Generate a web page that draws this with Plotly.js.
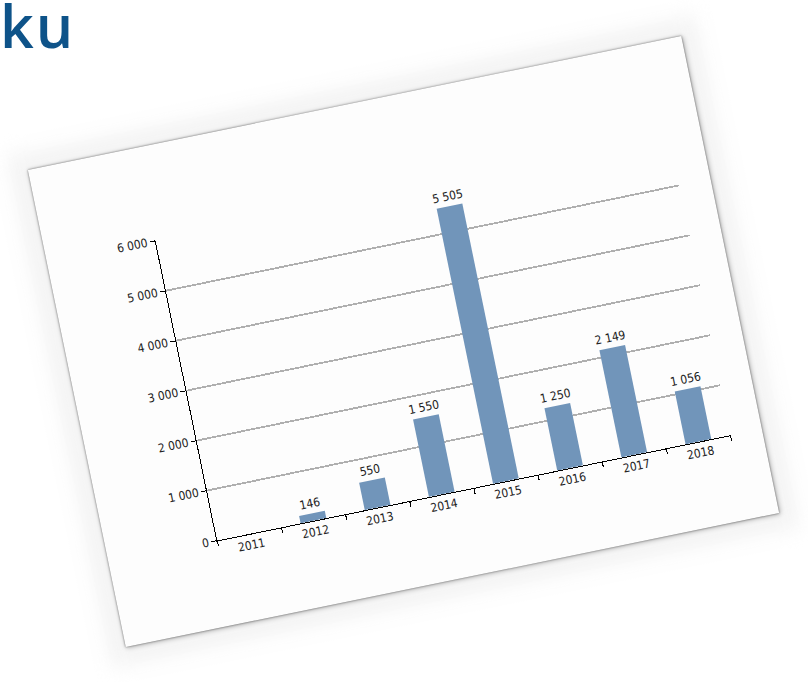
<!DOCTYPE html>
<html>
<head>
<meta charset="utf-8">
<script src="https://cdn.plot.ly/plotly-3.0.1.min.js"></script>
<style>
  html, body { margin: 0; padding: 0; background: #ffffff; width: 808px; height: 682px; overflow: hidden; position: relative; }
  #brand { position: absolute; left: 0px; top: -4px; font-family: "Open Sans", "Noto Sans", sans-serif; font-size: 59px; font-weight: 600; letter-spacing: 2px; color: #0e5389; line-height: 1; }
  #halo { position: absolute; left: 52px; top: 80px; width: 703px; height: 523px; transform: rotate(-11.6deg); background: #f4f4f4; filter: blur(10px); }
  #card { position: absolute; left: 70px; top: 98px; width: 667px; height: 487px; transform: rotate(-11.6deg); background: #fdfdfd;
          box-shadow: 0 0 2px rgba(0,0,0,0.55), 1px 1px 5px rgba(0,0,0,0.3); }
  #chart { width: 667px; height: 487px; }
</style>
</head>
<body>
<div id="brand">ku</div>
<div id="halo"></div>
<div id="card"><div id="chart"></div></div>
<script>
const years = ['2011', '2012', '2013', '2014', '2015', '2016', '2017', '2018'];
const values = [null, 146, 550, 1550, 5505, 1250, 2149, 1056];
const yTicks = [0, 1000, 2000, 3000, 4000, 5000, 6000];

function fmt(v) {
  return String(v).replace(/\B(?=(\d{3})+(?!\d))/g, ' ');
}
const labels = values.map(v => (v === null ? '' : fmt(v)));
const yTickText = yTicks.map(fmt);

const font = { family: '"Liberation Sans Narrow", "DejaVu Sans Condensed", Arial, sans-serif', size: 12, color: '#222222' };

Plotly.newPlot('chart', [{
  type: 'bar',
  x: years,
  y: values,
  text: labels,
  textposition: 'outside',
  constraintext: 'none',
  cliponaxis: false,
  textfont: font,
  marker: { color: '#7195ba' },
  width: 0.4,
  hoverinfo: 'none'
}], {
  width: 667,
  height: 487,
  margin: { l: 111, r: 32, t: 95, b: 86 },
  paper_bgcolor: 'rgba(0,0,0,0)',
  plot_bgcolor: 'rgba(0,0,0,0)',
  font: font,
  showlegend: false,
  xaxis: {
    type: 'category',
    showline: true, linecolor: '#000000', linewidth: 1,
    ticks: 'outside', tickson: 'boundaries', ticklen: 5, tickcolor: '#000000',
    showgrid: false, zeroline: false,
    tickfont: font
  },
  yaxis: {
    range: [0, 6000],
    tickvals: yTicks, ticktext: yTickText,
    showline: true, linecolor: '#000000', linewidth: 1,
    ticks: 'outside', ticklen: 5, tickcolor: '#000000',
    showgrid: true, gridcolor: '#afafaf', gridwidth: 1.8,
    zeroline: false,
    tickfont: font
  }
}, { displayModeBar: false, staticPlot: true });
</script>
</body>
</html>
